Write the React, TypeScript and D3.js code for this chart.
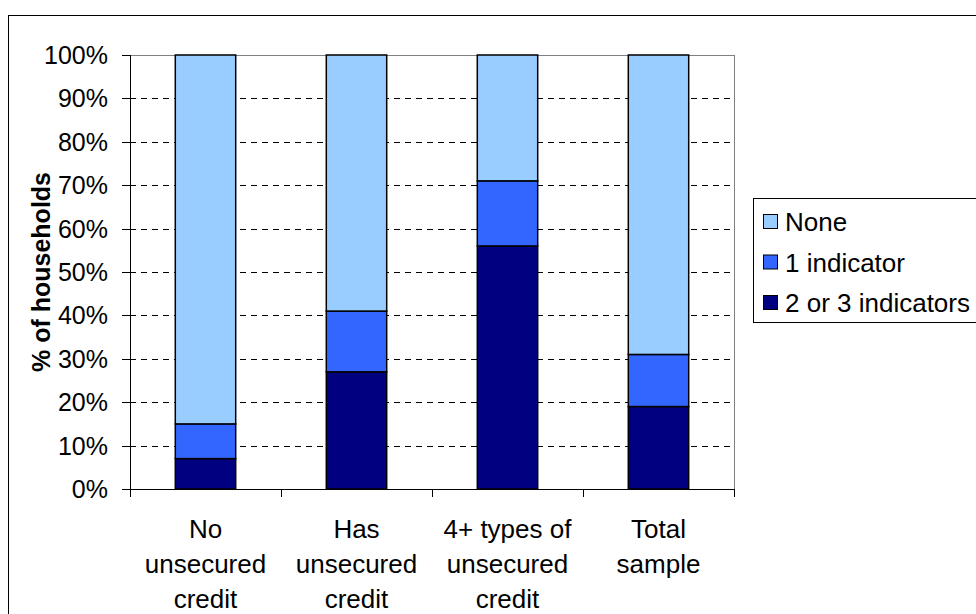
import React from "react";
import * as d3 from "d3";

const categories = [
  ["No", "unsecured", "credit"],
  ["Has", "unsecured", "credit"],
  ["4+ types of", "unsecured", "credit"],
  ["Total", "sample"],
];
const seriesNames = ["2 or 3 indicators", "1 indicator", "None"];
const twoOrThree = [7, 27, 56, 19];
const oneIndicator = [8, 14, 15, 12];
const none = [85, 59, 29, 69];
const colors = ["#000080", "#3366FF", "#99CCFF"];
const yTicks = [0, 10, 20, 30, 40, 50, 60, 70, 80, 90, 100];

const W = 976;
const H = 614;
const plot = { left: 130, right: 734, top: 55, bottom: 489 };
const font = "Arial, 'Liberation Sans', sans-serif";
const FS = 25;
const FS_LABEL = 26;

export default function App() {
  const x = d3
    .scaleBand<number>()
    .domain(categories.map((_, i) => i))
    .range([plot.left, plot.right])
    .paddingInner(0.6)
    .paddingOuter(0.3);
  const y = d3.scaleLinear().domain([0, 100]).range([plot.bottom, plot.top]);

  const rows = categories.map((_, i) => ({
    i,
    a: twoOrThree[i],
    b: oneIndicator[i],
    c: none[i],
  }));
  const stack = d3.stack<any>().keys(["a", "b", "c"])(rows);
  const step = (plot.right - plot.left) / categories.length;

  return (
    <svg
      width={W}
      height={H}
      style={{ position: "absolute", left: 0, top: 0, display: "block" }}
      fontFamily={font}
    >
      <rect x={0} y={0} width={W} height={H} fill="#fff" />
      <rect x={8.5} y={15.5} width={1100} height={800} fill="none" stroke="#000" strokeWidth={1} />
      {yTicks.filter((t) => t > 0 && t < 100).map((t) => (
        <line
          key={t}
          x1={plot.left}
          x2={plot.right}
          y1={Math.round(y(t)) + 0.5}
          y2={Math.round(y(t)) + 0.5}
          stroke="#000"
          strokeWidth={1}
          strokeDasharray="6,5"
        />
      ))}
      <line x1={plot.left} x2={plot.right} y1={plot.top + 0.5} y2={plot.top + 0.5} stroke="#808080" />
      <line x1={plot.right + 0.5} x2={plot.right + 0.5} y1={plot.top} y2={plot.bottom} stroke="#808080" />
      {stack.map((layer, si) =>
        layer.map((d, ci) => (
          <rect
            key={`${si}-${ci}`}
            x={x(ci)!}
            width={x.bandwidth()}
            y={y(d[1])}
            height={y(d[0]) - y(d[1])}
            fill={colors[si]}
            stroke="#000"
            strokeWidth={1.5}
          />
        ))
      )}
      <line x1={plot.left + 0.5} x2={plot.left + 0.5} y1={plot.top} y2={plot.bottom} stroke="#000" />
      <line x1={plot.left - 8} x2={plot.right + 1} y1={plot.bottom + 0.5} y2={plot.bottom + 0.5} stroke="#000" />
      {yTicks.map((t) => (
        <g key={t}>
          <line
            x1={plot.left - 8}
            x2={plot.left}
            y1={Math.round(y(t)) + 0.5}
            y2={Math.round(y(t)) + 0.5}
            stroke="#000"
          />
          <text x={plot.left - 22} y={y(t)} dy="0.36em" textAnchor="end" fontSize={FS}>
            {t}%
          </text>
        </g>
      ))}
      {d3.range(categories.length + 1).map((i) => (
        <line
          key={i}
          x1={Math.round(plot.left + step * i) + 0.5}
          x2={Math.round(plot.left + step * i) + 0.5}
          y1={plot.bottom}
          y2={plot.bottom + 8}
          stroke="#000"
        />
      ))}
      {categories.map((lines, i) => (
        <text key={i} textAnchor="middle" fontSize={FS_LABEL}>
          {lines.map((l, li) => (
            <tspan key={li} x={x(i)! + x.bandwidth() / 2} y={538 + li * 35}>
              {l}
            </tspan>
          ))}
        </text>
      ))}
      <text
        transform={`translate(50,${(plot.top + plot.bottom) / 2}) rotate(-90)`}
        textAnchor="middle"
        fontSize={FS}
        fontWeight="bold"
      >
        % of households
      </text>
      <rect x={753.5} y={198.5} width={300} height={124} fill="#fff" stroke="#000" />
      {[2, 1, 0].map((si, k) => (
        <g key={si} transform={`translate(763,${222 + k * 40.5})`}>
          <rect x={0.5} y={-7.5} width={14} height={14} fill={colors[si]} stroke="#000" />
          <text x={22} y={0} dy="0.36em" fontSize={FS_LABEL}>
            {seriesNames[si]}
          </text>
        </g>
      ))}
    </svg>
  );
}
